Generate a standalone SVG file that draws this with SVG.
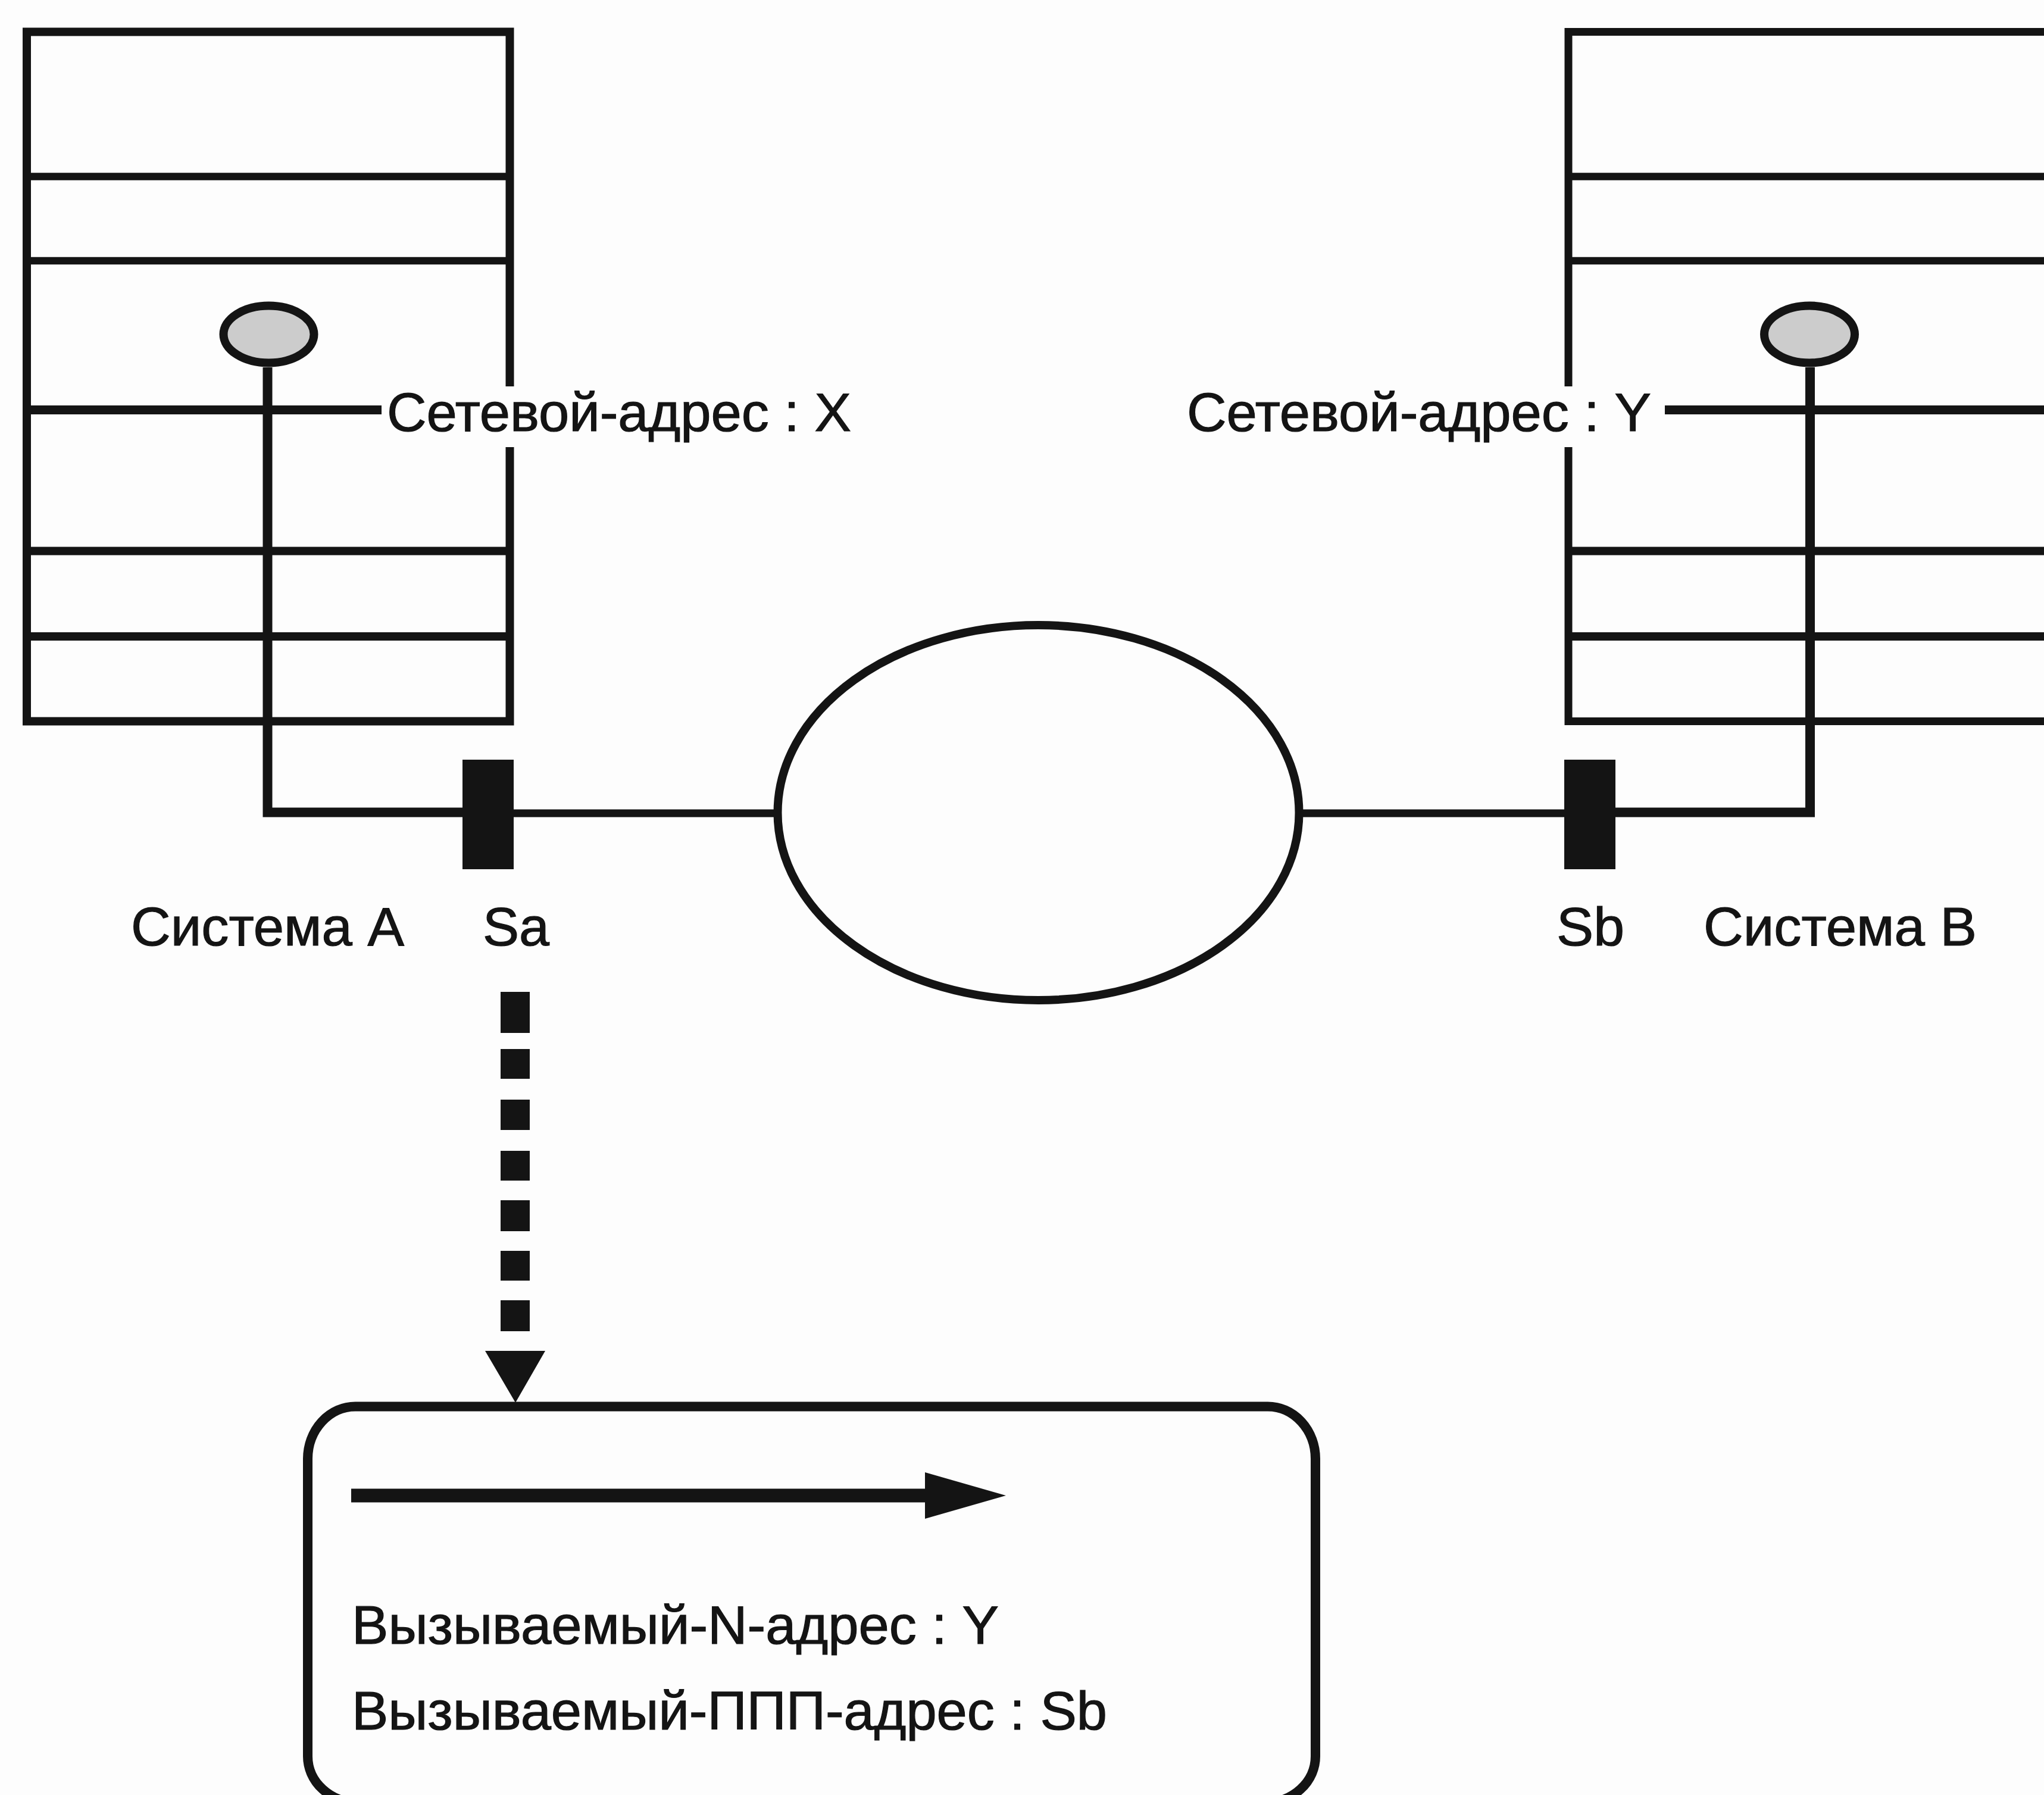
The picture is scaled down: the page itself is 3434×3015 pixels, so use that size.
<svg xmlns="http://www.w3.org/2000/svg" width="3434" height="3015" viewBox="0 0 3434 3015">
  <style>
    .ln { fill: none; stroke: #141414; stroke-linejoin: miter; stroke-linecap: butt; }
    .solid { fill: #141414; stroke: none; }
    .lbl { font-family: "Liberation Sans", Arial, sans-serif; font-size: 90px; fill: #141414; stroke: #141414; stroke-width: 1.200px; }
    .bg { fill: #fdfdfd; stroke: none; }
  </style>
  <rect class="bg" x="0" y="0" width="3434" height="3015"/>
  <g id="system-a">
    <path class="ln" stroke-width="14" d="M45 1211.500V53.500H856.500V1211.500H45Z"/>
    <path class="ln" stroke-width="13" d="M52 53.500H850" />
    <path class="ln" stroke-width="12.500" d="M52 296.500H850M52 438H850"/>
    <path class="ln" stroke-width="14" d="M52 925.500H850M52 1069H850"/>
    <path class="ln" stroke-width="15" d="M52 688.500H641"/>
    <ellipse cx="451.500" cy="561.500" rx="76" ry="48" fill="#cccccc" stroke="#141414" stroke-width="14"/>
  </g>
  <g id="system-b">
    <path class="ln" stroke-width="13" d="M3480 53.500H2635V1211.500H3480"/>
    <path class="ln" stroke-width="12.500" d="M2641 296.500H3434M2641 438H3434"/>
    <path class="ln" stroke-width="14" d="M2641 925.500H3434M2641 1069H3434"/>
    <path class="ln" stroke-width="15" d="M2797 688.500H3434"/>
    <ellipse cx="3040" cy="561.500" rx="76" ry="48" fill="#cccccc" stroke="#141414" stroke-width="14"/>
  </g>
  <g id="connectors">
    <path class="ln" stroke-width="16" d="M449.500 617V1364.500H777"/>
    <path class="ln" stroke-width="16" d="M3041 617V1364.500H2714"/>
    <path class="ln" stroke-width="13" d="M863 1366H1306M2183 1366H2628"/>
    <path class="ln" stroke-width="49" d="M865.500 1666V1735M865.500 1762V1812M865.500 1847V1898M865.500 1933V1983M865.500 2016V2068M865.500 2101V2151M865.500 2184V2236"/>
    <path class="solid" d="M815 2269H916L866 2356Z"/>
    <path class="ln" stroke-width="23" d="M590 2512H1556"/>
    <path class="solid" d="M1554 2473L1690 2512L1554 2551Z"/>
  </g>
  <g id="network">
    <ellipse cx="1744.500" cy="1365" rx="438" ry="315" fill="none" stroke="#141414" stroke-width="14"/>
  </g>
  <g id="port-sa">
    <rect class="solid" x="777" y="1276" width="86" height="184"/>
    <text class="lbl" x="811" y="1587.500" textLength="112" lengthAdjust="spacingAndGlyphs">Sa</text>
  </g>
  <g id="port-sb">
    <rect class="solid" x="2628" y="1276" width="86" height="184"/>
    <text class="lbl" x="2615" y="1587.500" textLength="114" lengthAdjust="spacingAndGlyphs">Sb</text>
  </g>
  <g id="label-system-a">
    <text class="lbl" x="220" y="1587.500" textLength="459" lengthAdjust="spacingAndGlyphs">Система A</text>
  </g>
  <g id="label-system-b">
    <text class="lbl" x="2862" y="1587.500" textLength="459" lengthAdjust="spacingAndGlyphs">Система B</text>
  </g>
  <g id="label-address-x">
    <rect class="bg" x="641" y="649" width="800" height="102"/>
    <text class="lbl" x="650" y="724" textLength="780" lengthAdjust="spacingAndGlyphs">Сетевой-адрес : X</text>
  </g>
  <g id="label-address-y">
    <rect class="bg" x="1990" y="649" width="807" height="102"/>
    <text class="lbl" x="1994" y="724" textLength="780" lengthAdjust="spacingAndGlyphs">Сетевой-адрес : Y</text>
  </g>
  <g id="callout">
    <path class="ln" stroke-width="16" d="M517 2450A80 88 0 0 1 597 2362.500H2130A80 88 0 0 1 2210 2450V2950A85 78 0 0 1 2125 3028H602A85 78 0 0 1 517 2950Z"/>
    <text class="lbl" x="591" y="2760.500" textLength="1087" lengthAdjust="spacingAndGlyphs">Вызываемый-N-адрес : Y</text>
    <text class="lbl" x="591" y="2904.500" textLength="1269" lengthAdjust="spacingAndGlyphs">Вызываемый-ППП-адрес : Sb</text>
  </g>
</svg>
